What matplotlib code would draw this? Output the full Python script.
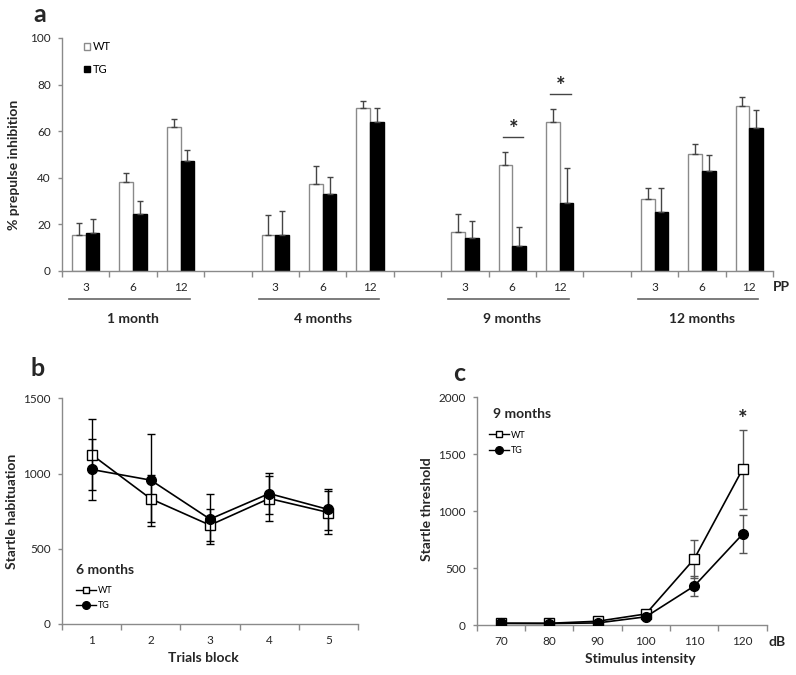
import numpy as np
import matplotlib
matplotlib.use("Agg")
import matplotlib.pyplot as plt
from matplotlib.lines import Line2D
from matplotlib.ticker import FixedLocator, NullFormatter

plt.rcParams['font.family'] = ['Lato', 'DejaVu Sans']

# ---------------- data: panel a ----------------
ages = ["1 month", "4 months", "9 months", "12 months"]
pp_levels = ["3", "6", "12"]
wt_ppi = [15.5, 38.1, 61.9, 15.3, 37.2, 69.9, 16.9, 45.7, 63.9, 30.8, 50.0, 70.9]
wt_ppi_err = [5.0, 3.9, 3.4, 8.6, 7.8, 3.0, 7.5, 5.3, 5.6, 4.9, 4.3, 3.7]
tg_ppi = [16.2, 24.6, 47.1, 15.5, 33.2, 64.0, 14.2, 10.6, 29.2, 25.5, 42.8, 61.5]
tg_ppi_err = [6.0, 5.4, 4.8, 10.1, 7.3, 5.9, 7.3, 8.4, 14.8, 10.2, 6.8, 7.8]
sig_pairs = [(2, 1), (2, 2)]  # (age index, pp index) with significance

# ---------------- data: panel b ----------------
blocks = [1, 2, 3, 4, 5]
wt_hab = [1126, 832, 657, 834, 741]
wt_hab_err = [235, 157, 108, 152, 140]
tg_hab = [1027, 956, 697, 867, 761]
tg_hab_err = [200, 307, 168, 137, 135]

# ---------------- data: panel c ----------------
intensity = ["70", "80", "90", "100", "110", "120"]
wt_thr = [15, 15, 33, 97, 580, 1367]
wt_thr_err = [5, 5, 8, 15, 167, 347]
tg_thr = [15, 13, 18, 72, 342, 797]
tg_thr_err = [5, 5, 6, 12, 84, 168]

GREY = "#8a8a8a"
TXT = "#262626"

fig = plt.figure(figsize=(7.96, 6.75), dpi=100)
W, H = 796, 675

def px_axes(l, t, r, b):
    return fig.add_axes([l / W, (H - b) / H, (r - l) / W, (b - t) / H])

def style(ax):
    for s in ("top", "right"):
        ax.spines[s].set_visible(False)
    for s in ("left", "bottom"):
        ax.spines[s].set_color(GREY)
        ax.spines[s].set_linewidth(1.0)
    ax.tick_params(axis="y", which="major", length=3, width=1, color=GREY,
                   labelsize=8.5, labelcolor=TXT, pad=5)
    ax.tick_params(axis="x", which="major", length=0, labelsize=8.5,
                   labelcolor=TXT, pad=8)
    ax.tick_params(axis="x", which="minor", length=4, width=1, color=GREY)

# ================= panel a =================
axa = px_axes(62, 38, 773, 271)
style(axa)
slot = []
for g in range(len(ages)):
    for p in range(len(pp_levels)):
        slot.append(g * 4 + p)
slot = np.array(slot, dtype=float)
bw = 0.29
zeros = np.zeros(len(slot))
b_wt = axa.bar(slot - bw / 2, wt_ppi, bw, color="white", edgecolor=GREY,
               linewidth=1.0, label="WT", zorder=2)
b_tg = axa.bar(slot + bw / 2, tg_ppi, bw, color="black", edgecolor="black",
               linewidth=1.0, label="TG", zorder=2)
axa.errorbar(slot - bw / 2, wt_ppi, yerr=[zeros, wt_ppi_err], fmt="none",
             ecolor="#444444", elinewidth=1.0, capsize=2.5, capthick=1.0, zorder=3)
axa.errorbar(slot + bw / 2, tg_ppi, yerr=[zeros, tg_ppi_err], fmt="none",
             ecolor="#444444", elinewidth=1.0, capsize=2.5, capthick=1.0, zorder=3)
axa.set_xlim(-0.5, 14.5)
axa.set_ylim(0, 100)
axa.set_yticks([0, 20, 40, 60, 80, 100])
axa.set_xticks(slot)
axa.set_xticklabels(pp_levels * len(ages))
axa.xaxis.set_minor_locator(FixedLocator(np.arange(-0.5, 15.0, 1.0)))
axa.xaxis.set_minor_formatter(NullFormatter())
axa.set_ylabel("% prepulse inhibition", fontsize=10, fontweight="bold", color=TXT)
axa.yaxis.set_label_coords(-0.059, 0.455)

trans = axa.get_xaxis_transform()
for g, name in enumerate(ages):
    c = g * 4 + 1
    axa.plot([c - 1.35, c + 1.19], [-0.12, -0.12], color="#666666", lw=1.2,
             transform=trans, clip_on=False)
    axa.text(c, -0.205, name, transform=trans, ha="center", va="center",
             fontsize=10, fontweight="bold", color=TXT)
axa.text(1.0, -0.068, "PP", transform=axa.transAxes, ha="left", va="center",
         fontsize=10, fontweight="bold", color=TXT)

for (g, p) in sig_pairs:
    i = g * 3 + p
    c = slot[i]
    ly = wt_ppi[i] + wt_ppi_err[i] + 6.5
    axa.plot([c - 0.2, c + 0.23], [ly, ly], color="#444444", lw=1.0)
    axa.text(c + 0.03, ly + 0.6, "*", ha="center", va="baseline", fontsize=16,
             fontweight="bold", color=TXT)

axa.legend(handles=[b_wt, b_tg], loc="upper left", bbox_to_anchor=(0.024, 1.005),
           frameon=False, fontsize=8, handlelength=0.55, handleheight=0.55,
           handletextpad=0.3, labelspacing=1.05, borderaxespad=0)
fig.text(39.5 / W, 1 - 15 / H, "a", fontsize=18, fontweight="bold", ha="center",
         va="center", color=TXT)

# ================= panel b =================
axb = px_axes(62, 398.3, 358, 624)
style(axb)
axb.errorbar(blocks, wt_hab, yerr=wt_hab_err, fmt="-s", color="black",
             mfc="white", mec="black", ms=6.5, lw=1.2, elinewidth=1.0,
             capsize=2.8, capthick=1.0, label="WT", zorder=3)
axb.errorbar(blocks, tg_hab, yerr=tg_hab_err, fmt="-o", color="black",
             mfc="black", mec="black", ms=7, lw=1.2, elinewidth=1.0,
             capsize=2.8, capthick=1.0, label="TG", zorder=4)
axb.set_xlim(0.5, 5.5)
axb.set_ylim(0, 1500)
axb.set_yticks([0, 500, 1000, 1500])
axb.set_xticks(blocks)
axb.xaxis.set_minor_locator(FixedLocator(np.arange(0.5, 6.0, 1.0)))
axb.xaxis.set_minor_formatter(NullFormatter())
axb.set_ylabel("Startle habituation", fontsize=10, fontweight="bold", color=TXT)
axb.yaxis.set_label_coords(-0.149, 0.5)
axb.set_xlabel("Trials block", fontsize=10, fontweight="bold", color=TXT)
axb.xaxis.set_label_coords(0.476, -0.124)
axb.text(0.047, 0.24, "6 months", transform=axb.transAxes, fontsize=10,
         fontweight="bold", ha="left", va="center", color=TXT)
hb = [Line2D([], [], color="black", marker="s", mfc="white", ms=5, lw=1.0),
      Line2D([], [], color="black", marker="o", mfc="black", ms=5.5, lw=1.0)]
axb.legend(hb, ["WT", "TG"], loc="upper left", bbox_to_anchor=(0.035, 0.185),
           frameon=False, fontsize=6.5, handlelength=2.2, handletextpad=0.2,
           labelspacing=0.7, borderaxespad=0)
fig.text(38 / W, 1 - 369 / H, "b", fontsize=18, fontweight="bold", ha="center",
         va="center", color=TXT)

# ================= panel c =================
axc = px_axes(476.7, 397.3, 766.7, 625)
style(axc)
xc = np.arange(len(intensity))
axc.errorbar(xc, wt_thr, yerr=wt_thr_err, fmt="-s", color="black",
             mfc="white", mec="black", ms=6.5, lw=1.2, elinewidth=1.0,
             ecolor="#555555", capsize=2.8, capthick=1.0, label="WT", zorder=3)
axc.errorbar(xc, tg_thr, yerr=tg_thr_err, fmt="-o", color="black",
             mfc="black", mec="black", ms=7, lw=1.2, elinewidth=1.0,
             ecolor="#555555", capsize=2.8, capthick=1.0, label="TG", zorder=4)
axc.set_xlim(-0.5, 5.5)
axc.set_ylim(0, 2000)
axc.set_yticks([0, 500, 1000, 1500, 2000])
axc.set_xticks(xc)
axc.set_xticklabels(intensity)
axc.xaxis.set_minor_locator(FixedLocator(np.arange(-0.5, 6.0, 1.0)))
axc.xaxis.set_minor_formatter(NullFormatter())
axc.set_ylabel("Startle threshold", fontsize=10, fontweight="bold", color=TXT)
axc.yaxis.set_label_coords(-0.151, 0.51)
axc.set_xlabel("Stimulus intensity", fontsize=10, fontweight="bold", color=TXT)
axc.xaxis.set_label_coords(0.563, -0.123)
axc.text(1.005, -0.074, "dB", transform=axc.transAxes, fontsize=10,
         fontweight="bold", ha="left", va="center", color=TXT)
axc.text(0.055, 0.925, "9 months", transform=axc.transAxes, fontsize=10,
         fontweight="bold", ha="left", va="center", color=TXT)
axc.text(xc[-1], 1745, "*", ha="center", va="baseline", fontsize=16,
         fontweight="bold", color=TXT)
hc = [Line2D([], [], color="black", marker="s", mfc="white", ms=5, lw=1.0),
      Line2D([], [], color="black", marker="o", mfc="black", ms=5.5, lw=1.0)]
axc.legend(hc, ["WT", "TG"], loc="upper left", bbox_to_anchor=(0.03, 0.87),
           frameon=False, fontsize=6.5, handlelength=2.2, handletextpad=0.2,
           labelspacing=0.7, borderaxespad=0)
fig.text(459 / W, 1 - 373 / H, "c", fontsize=18, fontweight="bold", ha="center",
         va="center", color=TXT)

fig.savefig("out.png", dpi=100, facecolor="white")
